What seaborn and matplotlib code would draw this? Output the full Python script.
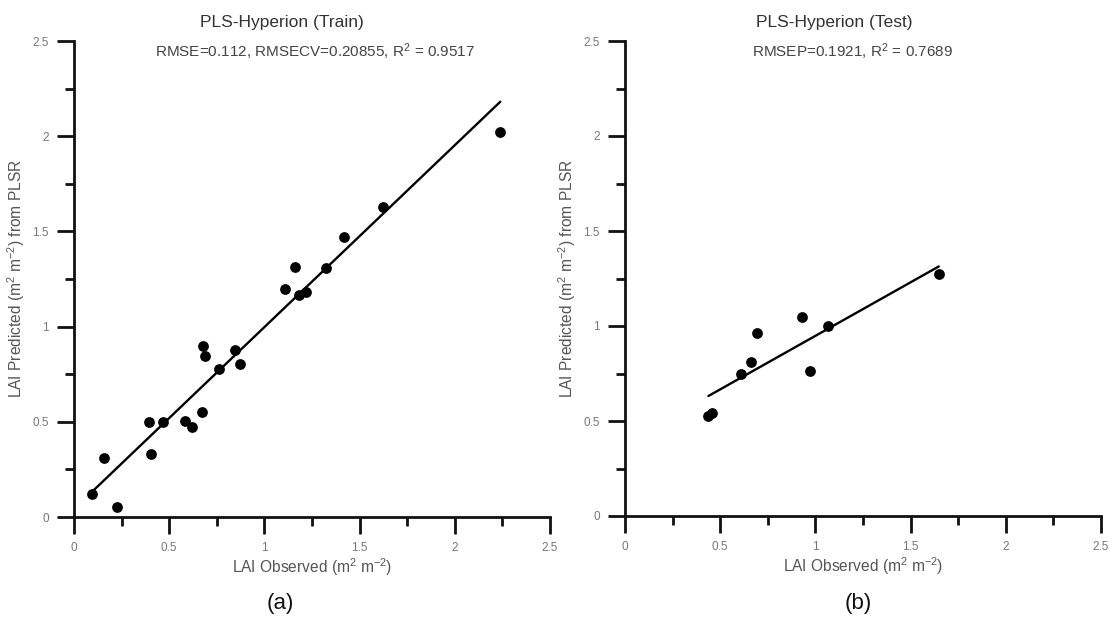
import numpy as np
import pandas as pd
import matplotlib
matplotlib.use("Agg")
import matplotlib.pyplot as plt
from matplotlib.ticker import MultipleLocator, FixedLocator
import seaborn as sns

# ---- data ----
train_obs = [0.094, 0.156, 0.225, 0.396, 0.404, 0.466, 0.582, 0.621, 0.674, 0.676, 0.687,
             0.760, 0.848, 0.873, 1.107, 1.162, 1.181, 1.220, 1.323, 1.417, 1.623, 2.239]
train_pred = [0.120, 0.308, 0.053, 0.497, 0.332, 0.497, 0.506, 0.471, 0.550, 0.898, 0.846,
              0.776, 0.877, 0.802, 1.196, 1.315, 1.166, 1.180, 1.309, 1.469, 1.630, 2.024]
test_obs = [0.438, 0.457, 0.610, 0.664, 0.692, 0.930, 0.973, 1.066, 1.648]
test_pred = [0.528, 0.542, 0.749, 0.811, 0.961, 1.046, 0.765, 1.000, 1.274]

titles = ["PLS-Hyperion (Train)", "PLS-Hyperion (Test)"]
stats = ["RMSE=0.112, RMSECV=0.20855, R$^2$ = 0.9517", "RMSEP=0.1921, R$^2$ = 0.7689"]
panel_labels = ["(a)", "(b)"]
tick_vals = [0, 0.5, 1, 1.5, 2, 2.5]
tick_labels = ["0", "0.5", "1", "1.5", "2", "2.5"]
xlabel = "LAI Observed (m$^2$ m$^{-2}$)"
ylabel = "LAI Predicted (m$^2$ m$^{-2}$) from PLSR"

sns.set_theme(style="ticks")
plt.rcParams['font.family'] = ['Liberation Sans', 'DejaVu Sans']
plt.rcParams['mathtext.fontset'] = 'custom'
plt.rcParams['mathtext.rm'] = 'Liberation Sans'
plt.rcParams['mathtext.it'] = 'Liberation Sans'

W, H = 1117, 620
fig = plt.figure(figsize=(W / 100, H / 100), dpi=100)

def fx(px):
    return px / W

def fy(py):
    return 1 - py / H

axes_px = [(74, 41, 550, 517), (625, 41, 1101, 516)]
datasets = [(train_obs, train_pred), (test_obs, test_pred)]
title_pos = [(282, 23), (834, 23)]
stats_pos = [(315, 52), (853, 52)]
lab_pos = [(280, 604), (858, 604)]

for i in range(2):
    x0, y0, x1, y1 = axes_px[i]
    ax = fig.add_axes([fx(x0), fy(y1), fx(x1 - x0), (y1 - y0) / H])
    df = pd.DataFrame({"obs": datasets[i][0], "pred": datasets[i][1]})
    sns.regplot(data=df, x="obs", y="pred", ax=ax, scatter=False, ci=None,
                line_kws=dict(color="black", lw=1.7))
    sns.scatterplot(data=df, x="obs", y="pred", ax=ax, color="black", s=60,
                    edgecolor="black", linewidth=0, zorder=3)
    ax.set_xlim(0, 2.5)
    ax.set_ylim(0, 2.5)
    ax.xaxis.set_major_locator(FixedLocator(tick_vals))
    ax.yaxis.set_major_locator(FixedLocator(tick_vals))
    ax.set_xticklabels(tick_labels)
    ax.set_yticklabels(tick_labels)
    ax.xaxis.set_minor_locator(MultipleLocator(0.25))
    ax.yaxis.set_minor_locator(MultipleLocator(0.25))
    sns.despine(ax=ax)
    for s in ["left", "bottom"]:
        ax.spines[s].set_linewidth(2.0)
        ax.spines[s].set_color("#111111")
    ax.tick_params(which="major", length=12, width=2.0, color="#111111",
                   labelsize=8.5, labelcolor="#777777", pad=6)
    ax.tick_params(which="minor", length=6.5, width=2.0, color="#111111")
    ax.set_xlabel(xlabel, fontsize=11.2, color="#555555", labelpad=2)
    ax.set_ylabel(ylabel, fontsize=11.2, color="#555555", labelpad=4)
    fig.text(fx(title_pos[i][0]), fy(title_pos[i][1]), titles[i], ha="center", va="center",
             fontsize=12.5, color="#333333")
    fig.text(fx(stats_pos[i][0]), fy(stats_pos[i][1]), stats[i], ha="center", va="center",
             fontsize=11, color="#444444")
    fig.text(fx(lab_pos[i][0]), fy(lab_pos[i][1]), panel_labels[i], ha="center", va="center",
             fontsize=16, color="#111111")

fig.savefig("out.png", dpi=100, facecolor="white")
